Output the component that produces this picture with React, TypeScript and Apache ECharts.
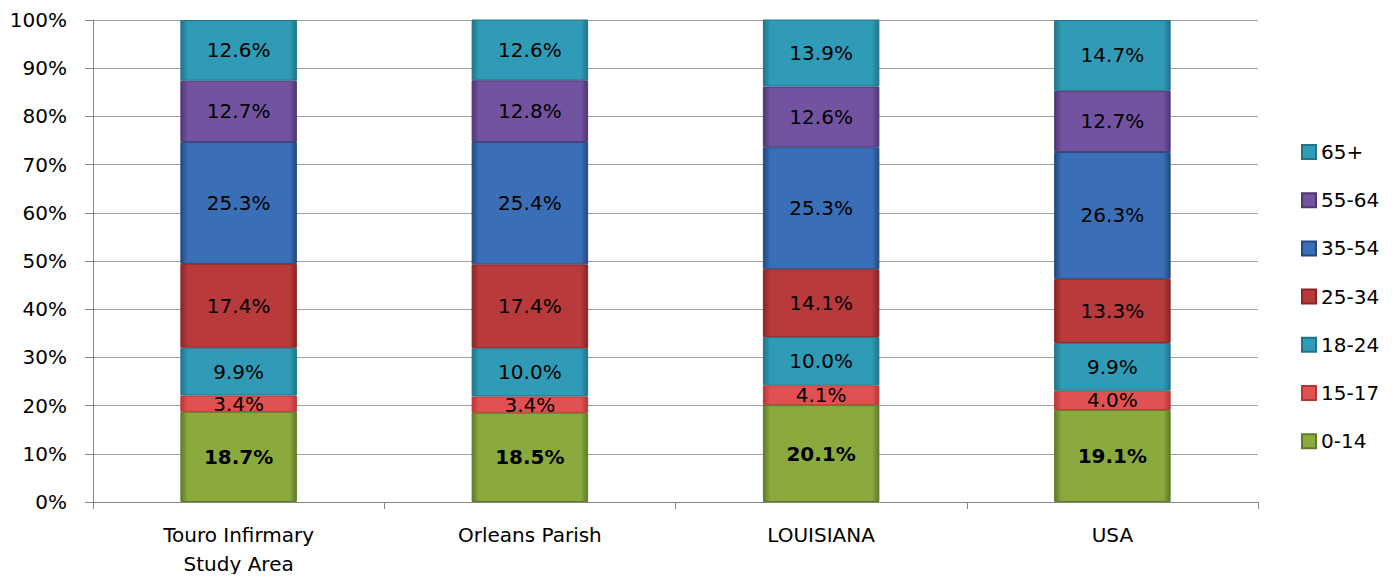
import React, { useEffect, useRef } from "react";
import * as echarts from "echarts";

const categories = ["Touro Infirmary\nStudy Area", "Orleans Parish", "LOUISIANA", "USA"];
const seriesNames = ["0-14", "15-17", "18-24", "25-34", "35-54", "55-64", "65+"];
const age0_14 = [18.7, 18.5, 20.1, 19.1];
const age15_17 = [3.4, 3.4, 4.1, 4.0];
const age18_24 = [9.9, 10.0, 10.0, 9.9];
const age25_34 = [17.4, 17.4, 14.1, 13.3];
const age35_54 = [25.3, 25.4, 25.3, 26.3];
const age55_64 = [12.7, 12.8, 12.6, 12.7];
const age65 = [12.6, 12.6, 13.9, 14.7];
const yTicks = [0, 10, 20, 30, 40, 50, 60, 70, 80, 90, 100];

const seriesValues = [age0_14, age15_17, age18_24, age25_34, age35_54, age55_64, age65];
const palette: [string, string, string][] = [
  ["#a9c85f", "#8aaa3e", "#5f7a28"],
  ["#f07070", "#e05252", "#b83636"],
  ["#52b6cf", "#2f9bb6", "#217488"],
  ["#d05050", "#b83a3a", "#8a2525"],
  ["#5b93d6", "#3a6fb8", "#22497f"],
  ["#9377b8", "#7253a0", "#4e3773"],
  ["#52b6cf", "#2f9bb6", "#217488"],
];

function grad(c: [string, string, string]) {
  return new echarts.graphic.LinearGradient(0, 0, 1, 0, [
    { offset: 0, color: c[2] },
    { offset: 0.06, color: c[1] },
    { offset: 0.5, color: c[1] },
    { offset: 0.94, color: c[1] },
    { offset: 1, color: c[2] },
  ]);
}

export default function App() {
  const ref = useRef<HTMLDivElement>(null);
  useEffect(() => {
    if (!ref.current) return;
    const chart = echarts.init(ref.current, undefined, { renderer: "svg" });
    const font = "'DejaVu Sans', sans-serif";
    chart.setOption({
      animation: false,
      textStyle: { fontFamily: font },
      grid: { left: 85, right: 134, top: 12, bottom: 80, outerBoundsMode: "none" },
      legend: {
        orient: "vertical",
        left: 1288,
        top: 129,
        itemWidth: 14,
        itemHeight: 14,
        itemGap: 28.2,
        icon: "rect",
        data: seriesNames.slice().reverse(),
        textStyle: { fontSize: 20, color: "#000", fontFamily: font },
      },
      xAxis: {
        type: "category",
        data: categories,
        axisLine: { lineStyle: { color: "#868686" } },
        axisTick: { show: true, length: 7, lineStyle: { color: "#868686" } },
        axisLabel: { fontSize: 20, color: "#000", margin: 18, lineHeight: 29, fontFamily: font },
      },
      yAxis: {
        type: "value",
        min: 0,
        max: 100,
        interval: 10,
        axisLine: { show: true, lineStyle: { color: "#868686" } },
        axisTick: { show: true, length: 8, lineStyle: { color: "#868686" } },
        splitLine: { lineStyle: { color: "#a0a0a0" } },
        axisLabel: {
          fontSize: 20,
          color: "#000",
          margin: 26,
          fontFamily: font,
          formatter: (v: number) => (yTicks.includes(v) ? v + "%" : ""),
        },
      },
      series: seriesNames.map((name, i) => ({
        name,
        type: "bar",
        stack: "total",
        barWidth: "40%",
        data: seriesValues[i],
        itemStyle: {
          color: grad(palette[i]),
          borderColor: palette[i][2],
          borderWidth: 1,
        },
        label: {
          show: true,
          position: "inside",
          color: "#000",
          fontSize: 20,
          fontWeight: i === 0 ? "bold" : "normal",
          fontFamily: font,
          formatter: (p: any) => p.value.toFixed(1) + "%",
        },
      })),
    });
    return () => chart.dispose();
  }, []);
  return <div ref={ref} style={{ width: 1384, height: 574, marginBottom: -8 }} />;
}
